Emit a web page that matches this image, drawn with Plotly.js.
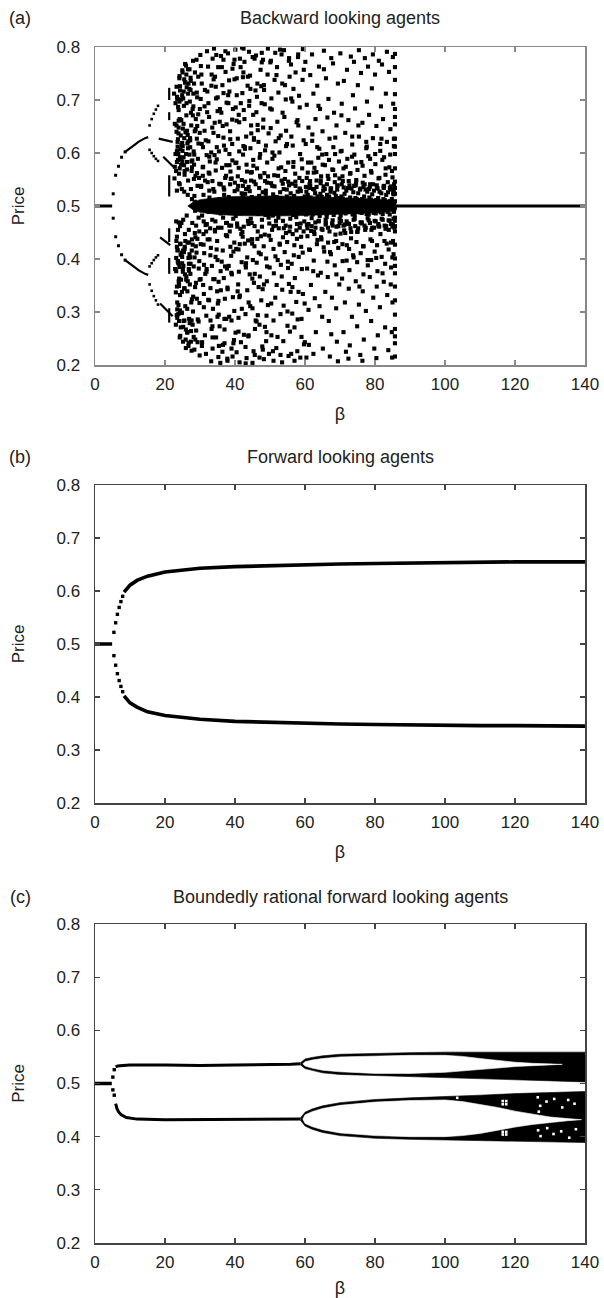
<!DOCTYPE html>
<html><head><meta charset="utf-8">
<script src="https://cdn.plot.ly/plotly-3.0.1.min.js"></script>
<style>html,body{margin:0;padding:0;background:#fff}#chart{width:604px;height:1298px}</style>
</head><body><div id="chart"></div>
<script>
// ---------- axis ticks ----------
const betaTicks = [0, 20, 40, 60, 80, 100, 120, 140];
const priceTicks = [0.2, 0.3, 0.4, 0.5, 0.6, 0.7, 0.8];

// ---------- panel (a): backward looking agents ----------
const aFlatBeta = [0, 4.9];
const aFlatPrice = [0.5, 0.5];
const aFlat2Beta = [85.7, 140];
const aFlat2Price = [0.5, 0.5];
const aP2DotBeta = [5.2, 5.9, 6.7, 7.6, 8.6];
const aP2DotUp = [0.523, 0.558, 0.575, 0.592, 0.602];
const aP2DotLow = [0.477, 0.442, 0.425, 0.408, 0.398];
const aP2LineBeta = [8.6, 9.5, 10.5, 11.4, 12.4, 13.4, 14.3, 15.2];
const aP2LineUp = [0.602, 0.606, 0.611, 0.616, 0.621, 0.625, 0.628, 0.630];
const aP2LineLow = [0.398, 0.394, 0.389, 0.384, 0.379, 0.375, 0.372, 0.370];
const aP4Beta = [15.6, 16.2, 16.8, 17.4, 18.0];
const aP4UU = [0.652, 0.664, 0.674, 0.682, 0.689];
const aP4UL = [0.606, 0.600, 0.594, 0.589, 0.585];
const aP4LU = [0.386, 0.392, 0.398, 0.403, 0.407];
const aP4LL = [0.352, 0.340, 0.330, 0.322, 0.314];
// short dashes: start/end beta and price
const aDashB0 = [18.2, 19.5, 18.6, 18.6, 21.2, 21.2, 21.2, 21.2, 21.2, 21.2];
const aDashB1 = [22.2, 22.4, 21.5, 22.2, 21.2, 21.2, 21.2, 21.2, 21.2, 21.2];
const aDashP0 = [0.627, 0.593, 0.441, 0.316, 0.723, 0.677, 0.558, 0.458, 0.402, 0.307];
const aDashP1 = [0.621, 0.574, 0.426, 0.292, 0.700, 0.662, 0.518, 0.432, 0.372, 0.280];
// dense core of the chaotic region
const aCoreBeta = [26.5, 28, 30, 35, 40, 50, 60, 70, 80, 86];
const aCoreUp = [0.500, 0.507, 0.512, 0.516, 0.518, 0.519, 0.518, 0.516, 0.513, 0.510];
const aCoreLow = [0.500, 0.493, 0.488, 0.484, 0.482, 0.481, 0.482, 0.484, 0.487, 0.490];
// chaotic cloud, beta 22.5-30
const cloudBetaA = [
22.6,22.8,23.0,22.7,23.2,23.4,22.9,23.1,23.5,23.3,
23.0,23.6,22.8,23.4,23.7,23.2,23.9,23.5,23.1,23.8,
23.3,23.9,23.6,24.0,23.4,23.8,23.5,24.0,23.7,23.2,
23.5,23.7,24.0,23.9,23.6,24.0,23.8,23.4,23.9,23.7,
24.1,24.3,24.2,24.5,24.4,24.6,24.2,24.8,24.7,24.3,
24.4,24.9,24.1,24.6,24.3,24.8,24.5,24.2,24.7,24.9,
25.0,25.2,25.4,25.1,25.3,25.6,25.5,25.2,25.7,25.4,
25.1,25.6,25.8,25.3,25.9,25.5,25.7,25.0,25.8,25.6,
26.0,26.2,26.1,26.4,26.3,26.6,26.5,26.2,26.8,26.7,
26.1,26.4,26.9,26.3,26.7,26.5,26.0,26.8,26.6,26.9,
27.0,27.3,27.1,27.5,27.2,27.6,27.4,27.8,27.7,27.3,
27.1,27.5,27.9,27.4,27.6,27.2,27.8,27.0,27.9,27.7,
28.0,28.3,28.1,28.5,28.2,28.7,28.4,28.6,28.9,28.8,
28.2,28.6,28.0,28.9,28.4,28.8,28.3,28.7,28.1,28.5,
29.0,29.2,29.5,29.1,29.4,29.3,29.7,29.6,29.8,29.9,
29.1,29.6,29.3,29.9,29.2,29.8,29.5,29.0,29.7,29.4,
23.4,24.2,24.9,25.6,26.3,27.0,27.7,23.9,24.6,25.3,
23.6,24.4,25.1,25.8,26.5,27.2,27.9,24.0,24.8,25.5,
24.3,24.9,25.5,26.1,26.7,27.3,25.2,26.4,27.6,28.2];
const cloudPriceA = [
0.712,0.655,0.598,0.552,0.471,0.423,0.381,0.337,0.289,0.640,
0.694,0.621,0.574,0.529,0.455,0.402,0.358,0.305,0.276,0.598,
0.725,0.681,0.612,0.561,0.442,0.392,0.318,0.283,0.626,0.377,
0.702,0.587,0.543,0.469,0.416,0.349,0.296,0.603,0.661,0.395,
0.741,0.718,0.664,0.633,0.607,0.578,0.541,0.532,0.468,0.462,
0.428,0.404,0.385,0.361,0.332,0.298,0.271,0.252,0.615,0.392,
0.752,0.703,0.689,0.646,0.592,0.559,0.527,0.474,0.447,0.413,
0.376,0.344,0.311,0.283,0.248,0.628,0.371,0.604,0.733,0.419,
0.765,0.724,0.671,0.618,0.583,0.548,0.521,0.482,0.455,0.402,
0.367,0.339,0.287,0.262,0.236,0.634,0.598,0.381,0.712,0.431,
0.758,0.742,0.697,0.652,0.611,0.566,0.532,0.468,0.437,0.391,
0.352,0.318,0.276,0.244,0.227,0.624,0.586,0.409,0.683,0.513,
0.774,0.731,0.688,0.641,0.603,0.557,0.519,0.491,0.463,0.424,
0.386,0.347,0.301,0.265,0.229,0.664,0.578,0.441,0.712,0.508,
0.776,0.705,0.673,0.627,0.589,0.538,0.505,0.478,0.396,0.361,
0.325,0.282,0.243,0.218,0.651,0.452,0.744,0.412,0.553,0.494,
0.583,0.571,0.619,0.566,0.642,0.597,0.573,0.648,0.588,0.655,
0.417,0.429,0.381,0.434,0.358,0.403,0.427,0.352,0.412,0.345,
0.726,0.709,0.739,0.748,0.731,0.719,0.272,0.261,0.284,0.253];
// chaotic cloud, beta 30-50
const cloudBetaB = [
30.1,30.4,30.2,30.7,30.5,30.9,30.3,30.8,30.6,31.0,
31.2,31.5,31.1,31.8,31.4,31.7,31.3,31.9,31.6,31.0,
30.5,31.3,30.8,31.6,30.2,31.9,31.1,30.6,31.4,30.9,
32.0,32.3,32.1,32.6,32.4,32.8,32.2,32.7,32.5,32.9,
33.1,33.4,33.0,33.7,33.3,33.6,33.2,33.9,33.5,33.8,
32.4,33.2,32.7,33.5,32.2,33.8,33.0,32.9,33.6,32.6,
34.0,34.3,34.6,34.2,34.8,34.5,34.1,34.7,34.4,34.9,
35.0,35.3,35.1,35.6,35.4,35.8,35.2,35.7,35.5,35.9,
34.5,35.2,34.8,35.6,34.3,35.9,35.0,34.6,35.4,34.9,
36.0,36.4,36.1,36.7,36.3,36.9,36.2,36.6,36.5,36.8,
37.1,37.5,37.0,37.8,37.3,37.6,37.2,37.9,37.4,37.7,
36.5,37.3,36.9,37.7,36.2,37.9,37.0,36.7,37.5,36.4,
38.0,38.3,38.1,38.6,38.4,38.8,38.2,38.7,38.5,38.9,
39.1,39.4,39.0,39.7,39.3,39.6,39.2,39.9,39.5,39.8,
38.4,39.2,38.7,39.5,38.2,39.8,39.0,38.6,39.4,38.9,
40.1,40.5,40.2,40.8,40.4,40.9,40.3,40.7,40.6,41.0,
41.1,41.4,41.0,41.7,41.3,41.6,41.2,41.9,41.5,41.8,
40.5,41.2,40.8,41.6,40.2,41.9,41.0,40.7,41.4,40.9,
42.0,42.4,42.1,42.7,42.3,42.9,42.2,42.6,42.5,42.8,
43.1,43.5,43.0,43.8,43.3,43.6,43.2,43.9,43.4,43.7,
42.5,43.3,42.9,43.7,42.2,43.9,43.0,42.7,43.5,42.4,
44.0,44.3,44.1,44.6,44.4,44.8,44.2,44.7,44.5,44.9,
45.1,45.4,45.0,45.7,45.3,45.6,45.2,45.9,45.5,45.8,
44.4,45.2,44.8,45.6,44.2,45.9,45.0,44.6,45.4,44.9,
46.0,46.4,46.1,46.7,46.3,46.9,46.2,46.6,46.5,46.8,
47.1,47.5,47.0,47.8,47.3,47.6,47.2,47.9,47.4,47.7,
46.5,47.3,46.9,47.7,46.2,47.9,47.0,46.7,47.5,46.4,
48.0,48.3,48.1,48.6,48.4,48.8,48.2,48.7,48.5,48.9,
49.1,49.4,49.0,49.7,49.3,49.6,49.2,49.9,49.5,49.8,
48.5,49.2,48.8,49.6,48.2,49.9,49.0,48.6,49.4,48.9];
const cloudPriceB = [
0.785,0.748,0.702,0.659,0.617,0.574,0.536,0.507,0.482,0.447,
0.411,0.372,0.334,0.293,0.256,0.221,0.688,0.596,0.464,0.521,
0.731,0.642,0.557,0.496,0.428,0.381,0.309,0.243,0.719,0.351,
0.792,0.763,0.716,0.668,0.622,0.584,0.545,0.516,0.489,0.458,
0.421,0.387,0.345,0.306,0.268,0.231,0.207,0.739,0.648,0.532,
0.694,0.601,0.561,0.474,0.437,0.362,0.284,0.503,0.778,0.322,
0.797,0.744,0.703,0.657,0.611,0.567,0.527,0.498,0.471,0.434,
0.398,0.357,0.316,0.273,0.236,0.204,0.762,0.683,0.542,0.486,
0.725,0.632,0.588,0.513,0.452,0.377,0.291,0.252,0.603,0.339,
0.783,0.728,0.676,0.629,0.572,0.531,0.509,0.478,0.416,0.364,
0.325,0.287,0.241,0.212,0.753,0.695,0.553,0.493,0.445,0.382,
0.651,0.606,0.521,0.468,0.395,0.343,0.267,0.776,0.577,0.225,
0.788,0.737,0.694,0.641,0.598,0.551,0.517,0.489,0.452,0.406,
0.371,0.328,0.284,0.247,0.216,0.768,0.663,0.528,0.502,0.431,
0.716,0.617,0.565,0.476,0.387,0.302,0.231,0.541,0.683,0.463,
0.795,0.741,0.686,0.627,0.582,0.538,0.512,0.493,0.467,0.418,
0.376,0.331,0.289,0.243,0.205,0.762,0.658,0.524,0.486,0.447,
0.709,0.603,0.556,0.507,0.481,0.394,0.263,0.531,0.778,0.352,
0.799,0.752,0.713,0.664,0.597,0.546,0.519,0.495,0.461,0.429,
0.384,0.341,0.296,0.254,0.213,0.727,0.631,0.536,0.503,0.472,
0.681,0.578,0.523,0.488,0.442,0.318,0.234,0.772,0.403,0.613,
0.791,0.746,0.698,0.652,0.609,0.564,0.528,0.501,0.476,0.437,
0.398,0.355,0.307,0.268,0.226,0.778,0.672,0.541,0.513,0.489,
0.721,0.587,0.517,0.462,0.371,0.284,0.204,0.548,0.625,0.429,
0.784,0.731,0.677,0.621,0.571,0.534,0.508,0.485,0.452,0.412,
0.367,0.322,0.276,0.235,0.757,0.694,0.598,0.526,0.497,0.461,
0.643,0.554,0.519,0.474,0.393,0.343,0.214,0.502,0.726,0.438,
0.776,0.719,0.663,0.605,0.562,0.529,0.506,0.483,0.446,0.401,
0.358,0.313,0.262,0.221,0.748,0.637,0.544,0.514,0.491,0.467,
0.692,0.582,0.523,0.478,0.424,0.384,0.293,0.547,0.797,0.245];
// chaotic cloud, beta 50-70
const cloudBetaC = [
50.1,50.4,50.2,50.7,50.3,50.9,50.5,50.8,50.6,51.0,
51.1,51.5,51.0,51.8,51.3,51.6,51.2,51.9,51.4,51.7,
50.5,51.3,50.8,51.7,50.2,51.9,51.0,50.7,51.5,50.4,
52.0,52.4,52.1,52.7,52.3,52.9,52.2,52.6,52.5,52.8,
53.1,53.5,53.0,53.8,53.3,53.6,53.2,53.9,53.4,53.7,
52.5,53.3,52.9,53.7,52.2,53.9,53.0,52.7,53.5,52.4,
54.0,54.3,54.1,54.6,54.4,54.8,54.2,54.7,54.5,54.9,
55.1,55.4,55.0,55.7,55.3,55.6,55.2,55.9,55.5,55.8,
54.5,55.2,54.8,55.6,54.2,55.9,55.0,54.6,55.4,54.9,
56.0,56.4,56.1,56.7,56.3,56.9,56.2,56.6,56.5,56.8,
57.1,57.5,57.0,57.8,57.3,57.6,57.2,57.9,57.4,57.7,
56.5,57.3,56.9,57.7,56.2,57.9,57.0,56.7,57.5,56.4,
58.0,58.3,58.1,58.6,58.4,58.8,58.2,58.7,58.5,58.9,
59.1,59.4,59.0,59.7,59.3,59.6,59.2,59.9,59.5,59.8,
58.5,59.2,58.8,59.6,58.2,59.9,59.0,58.6,59.4,58.9,
60.1,60.5,60.2,60.8,60.4,60.9,60.3,60.7,60.6,61.0,
61.1,61.5,61.0,61.8,61.3,61.6,61.2,61.9,61.4,61.7,
60.5,61.3,60.8,61.7,60.2,61.9,61.0,60.7,61.5,60.4,
62.0,62.4,62.1,62.7,62.3,62.9,62.2,62.6,62.5,62.8,
63.1,63.5,63.0,63.8,63.3,63.6,63.2,63.9,63.4,63.7,
62.5,63.3,62.9,63.7,62.2,63.9,63.0,62.7,63.5,62.4,
64.0,64.3,64.1,64.6,64.4,64.8,64.2,64.7,64.5,64.9,
65.1,65.4,65.0,65.7,65.3,65.6,65.2,65.9,65.5,65.8,
64.5,65.2,64.8,65.6,64.2,65.9,65.0,64.6,65.4,64.9,
66.0,66.4,66.1,66.7,66.3,66.9,66.2,66.6,66.5,66.8,
67.1,67.5,67.0,67.8,67.3,67.6,67.2,67.9,67.4,67.7,
66.5,67.3,66.9,67.7,66.2,67.9,67.0,66.7,67.5,66.4,
68.0,68.3,68.1,68.6,68.4,68.8,68.2,68.7,68.5,68.9,
69.1,69.4,69.0,69.7,69.3,69.6,69.2,69.9,69.5,69.8,
68.5,69.2,68.8,69.6,68.2,69.9,69.0,68.6,69.4,68.9];
const cloudPriceC = [
0.771,0.703,0.647,0.589,0.543,0.522,0.504,0.482,0.455,0.419,
0.373,0.327,0.284,0.232,0.738,0.622,0.558,0.517,0.492,0.463,
0.682,0.537,0.509,0.472,0.436,0.351,0.208,0.601,0.789,0.256,
0.762,0.714,0.659,0.601,0.557,0.526,0.507,0.486,0.458,0.427,
0.389,0.342,0.296,0.245,0.786,0.676,0.573,0.532,0.497,0.472,
0.628,0.548,0.515,0.441,0.398,0.312,0.219,0.493,0.731,0.478,
0.794,0.728,0.668,0.613,0.566,0.531,0.511,0.489,0.463,0.432,
0.395,0.353,0.301,0.263,0.217,0.744,0.582,0.524,0.503,0.476,
0.701,0.546,0.518,0.452,0.413,0.338,0.274,0.642,0.774,0.487,
0.767,0.697,0.631,0.583,0.542,0.519,0.502,0.483,0.447,0.407,
0.364,0.319,0.271,0.226,0.752,0.658,0.561,0.527,0.494,0.466,
0.614,0.538,0.512,0.438,0.391,0.286,0.208,0.721,0.479,0.347,
0.781,0.708,0.652,0.598,0.553,0.528,0.508,0.487,0.459,0.423,
0.381,0.334,0.287,0.239,0.738,0.624,0.547,0.518,0.496,0.471,
0.686,0.571,0.514,0.452,0.404,0.316,0.253,0.531,0.796,0.442,
0.772,0.691,0.617,0.563,0.527,0.506,0.484,0.443,0.382,0.304,
0.238,0.747,0.648,0.582,0.541,0.516,0.493,0.462,0.417,0.351,
0.553,0.534,0.521,0.512,0.488,0.477,0.466,0.458,0.539,0.214,
0.786,0.712,0.635,0.572,0.532,0.509,0.489,0.451,0.397,0.326,
0.262,0.727,0.664,0.591,0.548,0.518,0.497,0.472,0.428,0.369,
0.563,0.536,0.524,0.513,0.484,0.471,0.459,0.447,0.611,0.221,
0.763,0.683,0.608,0.556,0.523,0.504,0.481,0.437,0.374,0.291,
0.231,0.758,0.641,0.577,0.537,0.514,0.492,0.465,0.414,0.338,
0.548,0.529,0.517,0.508,0.486,0.474,0.455,0.441,0.793,0.597,
0.741,0.667,0.598,0.551,0.521,0.502,0.479,0.431,0.366,0.283,
0.216,0.779,0.627,0.569,0.533,0.512,0.491,0.463,0.409,0.327,
0.557,0.527,0.518,0.506,0.485,0.473,0.452,0.702,0.258,0.395,
0.769,0.676,0.611,0.558,0.525,0.505,0.483,0.446,0.388,0.307,
0.244,0.731,0.652,0.584,0.539,0.515,0.494,0.468,0.421,0.352,
0.545,0.531,0.519,0.509,0.488,0.476,0.461,0.598,0.207,0.434];
// chaotic cloud, beta 70-86
const cloudBetaD = [
70.1,70.5,70.2,70.8,70.4,70.9,70.3,70.7,70.6,71.0,
71.1,71.5,71.0,71.8,71.3,71.6,71.2,71.9,71.4,71.7,
70.5,71.3,70.8,71.7,70.2,71.9,71.0,70.7,71.5,70.4,
72.0,72.4,72.1,72.7,72.3,72.9,72.2,72.6,72.5,72.8,
73.1,73.5,73.0,73.8,73.3,73.6,73.2,73.9,73.4,73.7,
72.5,73.3,72.9,73.7,72.2,73.9,73.0,72.7,73.5,72.4,
74.0,74.3,74.1,74.6,74.4,74.8,74.2,74.7,74.5,74.9,
75.1,75.4,75.0,75.7,75.3,75.6,75.2,75.9,75.4,75.8,
74.5,75.2,74.8,75.6,74.2,75.9,75.0,74.6,75.4,74.9,
76.0,76.4,76.1,76.7,76.3,76.9,76.2,76.6,76.5,76.8,
77.1,77.5,77.0,77.8,77.3,77.6,77.2,77.9,77.4,77.7,
76.5,77.3,76.9,77.7,76.2,77.9,77.0,76.7,77.5,76.4,
78.0,78.3,78.1,78.6,78.4,78.8,78.2,78.7,78.5,78.9,
79.1,79.4,79.0,79.7,79.3,79.6,79.2,79.9,79.5,79.8,
78.5,79.2,78.8,79.6,78.2,79.9,79.0,78.6,79.4,78.9,
80.0,80.4,80.1,80.7,80.3,80.9,80.2,80.6,80.5,80.8,
81.1,81.5,81.0,81.8,81.3,81.6,81.2,81.9,81.4,81.7,
80.5,81.3,80.9,81.7,80.2,81.9,81.0,80.7,81.5,80.4,
82.0,82.3,82.1,82.6,82.4,82.8,82.2,82.7,82.5,82.9,
83.1,83.4,83.0,83.7,83.3,83.6,83.2,83.9,83.5,83.8,
82.5,83.2,82.8,83.6,82.2,83.9,83.0,82.6,83.4,82.9,
84.0,84.4,84.1,84.7,84.3,84.9,84.2,84.6,84.5,84.8,
85.1,85.4,85.0,85.3,85.2,85.4,85.1,85.3,85.0,85.2,
84.5,85.2,84.8,85.4,84.2,85.3,85.0,84.6,85.4,84.9,
85.7,85.7,85.7,85.7,85.7,85.7,85.7,85.7,85.7,85.7,
85.7,85.7,85.7,85.7,85.7,85.7,85.7,85.7,85.7,85.7,
85.7,85.7,85.7,85.7,85.7,85.7,85.7,85.7,85.7,85.7];
const cloudPriceD = [
0.788,0.693,0.603,0.547,0.518,0.497,0.472,0.428,0.363,0.262,
0.736,0.638,0.571,0.529,0.509,0.486,0.454,0.397,0.318,0.225,
0.541,0.523,0.514,0.503,0.482,0.471,0.463,0.556,0.449,0.671,
0.757,0.662,0.589,0.539,0.512,0.493,0.467,0.419,0.344,0.237,
0.782,0.616,0.562,0.526,0.507,0.484,0.451,0.403,0.291,0.709,
0.547,0.533,0.516,0.502,0.489,0.474,0.458,0.379,0.631,0.212,
0.772,0.684,0.597,0.544,0.515,0.496,0.476,0.432,0.358,0.273,
0.728,0.631,0.568,0.531,0.511,0.488,0.458,0.411,0.314,0.219,
0.539,0.524,0.513,0.504,0.483,0.469,0.452,0.582,0.794,0.394,
0.751,0.657,0.583,0.536,0.513,0.494,0.469,0.424,0.339,0.248,
0.779,0.609,0.557,0.527,0.506,0.485,0.455,0.398,0.302,0.697,
0.544,0.531,0.518,0.502,0.487,0.477,0.463,0.371,0.621,0.208,
0.763,0.672,0.594,0.541,0.516,0.497,0.473,0.437,0.366,0.283,
0.722,0.628,0.563,0.529,0.508,0.487,0.459,0.414,0.327,0.231,
0.536,0.522,0.512,0.503,0.484,0.472,0.455,0.589,0.786,0.398,
0.748,0.651,0.579,0.533,0.511,0.494,0.471,0.426,0.348,0.256,
0.774,0.604,0.552,0.524,0.506,0.488,0.461,0.404,0.309,0.688,
0.539,0.527,0.515,0.502,0.486,0.476,0.463,0.377,0.617,0.213,
0.767,0.664,0.587,0.538,0.513,0.496,0.474,0.434,0.357,0.271,
0.712,0.621,0.559,0.526,0.508,0.489,0.462,0.418,0.332,0.228,
0.534,0.521,0.511,0.503,0.485,0.473,0.457,0.592,0.791,0.391,
0.753,0.645,0.573,0.531,0.509,0.495,0.472,0.431,0.352,0.262,
0.781,0.613,0.554,0.522,0.506,0.489,0.464,0.409,0.318,0.693,
0.537,0.524,0.513,0.502,0.484,0.476,0.461,0.384,0.627,0.214,
0.787,0.762,0.738,0.711,0.683,0.654,0.627,0.598,0.571,0.546,
0.523,0.509,0.497,0.478,0.452,0.427,0.401,0.373,0.348,0.322,
0.295,0.268,0.241,0.216,0.668,0.612,0.534,0.462,0.387,0.254];
// chaotic cloud, additional points over the whole region
const cloudBetaE = [
23.15,23.55,23.85,24.25,24.65,25.05,25.45,25.85,26.25,26.65,
23.25,23.65,24.05,24.45,24.85,25.25,25.65,26.05,26.45,26.85,
27.15,27.55,27.95,28.35,28.75,29.15,29.55,29.95,27.35,28.55,
27.25,27.65,28.05,28.45,28.85,29.25,29.65,29.85,27.45,28.65,
23.75,24.15,24.55,24.95,25.35,25.75,26.15,26.55,26.95,23.45,
23.85,24.35,24.75,25.15,25.55,25.95,26.35,26.75,27.05,23.35,
30.25,30.85,31.45,32.05,32.65,33.25,33.85,34.45,35.05,35.65,
30.55,31.15,31.75,32.35,32.95,33.55,34.15,34.75,35.35,35.95,
36.25,36.85,37.45,38.05,38.65,39.25,39.85,40.45,41.05,41.65,
36.55,37.15,37.75,38.35,38.95,39.55,40.15,40.75,41.35,41.95,
42.25,42.85,43.45,44.05,44.65,45.25,45.85,46.45,47.05,47.65,
42.55,43.15,43.75,44.35,44.95,45.55,46.15,46.75,47.35,47.95,
30.35,31.95,33.55,35.15,36.75,38.35,39.95,41.55,43.15,44.75,
31.05,32.65,34.25,35.85,37.45,39.05,40.65,42.25,43.85,45.45,
48.25,48.85,49.45,50.05,50.65,51.25,51.85,52.45,53.05,53.65,
48.55,49.15,49.75,50.35,50.95,51.55,52.15,52.75,53.35,53.95,
54.25,54.85,55.45,56.05,56.65,57.25,57.85,58.45,59.05,59.65,
54.55,55.15,55.75,56.35,56.95,57.55,58.15,58.75,59.35,59.95,
60.25,60.85,61.45,62.05,62.65,63.25,63.85,64.45,65.05,65.65,
60.55,61.15,61.75,62.35,62.95,63.55,64.15,64.75,65.35,65.95,
66.25,66.85,67.45,68.05,68.65,69.25,69.85,70.45,71.05,71.65,
66.55,67.15,67.75,68.35,68.95,69.55,70.15,70.75,71.35,71.95,
72.25,72.85,73.45,74.05,74.65,75.25,75.85,76.45,77.05,77.65,
72.55,73.15,73.75,74.35,74.95,75.55,76.15,76.75,77.35,77.95,
78.25,78.85,79.45,80.05,80.65,81.25,81.85,82.45,83.05,83.65,
78.55,79.15,79.75,80.35,80.95,81.55,82.15,82.75,83.35,83.95,
84.25,84.85,85.45,84.55,85.15,85.55,84.35,84.95,85.35,85.65,
34.65,37.25,39.85,42.45,45.05,47.65,50.25,52.85,55.45,58.05,
35.25,37.85,40.45,43.05,45.65,48.25,50.85,53.45,56.05,58.65];
const cloudPriceE = [
0.566,0.604,0.637,0.592,0.662,0.613,0.577,0.639,0.569,0.622,
0.434,0.396,0.363,0.408,0.338,0.387,0.423,0.361,0.431,0.378,
0.628,0.584,0.671,0.597,0.645,0.562,0.618,0.683,0.736,0.752,
0.372,0.416,0.329,0.403,0.355,0.438,0.382,0.317,0.264,0.248,
0.687,0.745,0.701,0.756,0.716,0.768,0.694,0.758,0.721,0.706,
0.313,0.255,0.299,0.244,0.284,0.232,0.306,0.242,0.279,0.294,
0.764,0.611,0.548,0.677,0.593,0.727,0.638,0.582,0.705,0.659,
0.236,0.389,0.452,0.323,0.407,0.273,0.362,0.418,0.295,0.341,
0.762,0.614,0.557,0.709,0.626,0.586,0.739,0.661,0.572,0.694,
0.238,0.386,0.443,0.291,0.374,0.414,0.261,0.339,0.428,0.306,
0.743,0.608,0.565,0.689,0.637,0.576,0.718,0.653,0.591,0.771,
0.257,0.392,0.435,0.311,0.363,0.424,0.282,0.347,0.409,0.229,
0.538,0.466,0.547,0.459,0.535,0.463,0.544,0.457,0.532,0.468,
0.471,0.529,0.455,0.541,0.468,0.552,0.461,0.538,0.466,0.546,
0.728,0.614,0.556,0.684,0.538,0.595,0.747,0.571,0.633,0.542,
0.272,0.386,0.444,0.316,0.462,0.405,0.253,0.429,0.367,0.458,
0.551,0.617,0.539,0.703,0.574,0.546,0.662,0.533,0.588,0.757,
0.449,0.383,0.461,0.297,0.426,0.454,0.338,0.467,0.412,0.243,
0.536,0.582,0.547,0.623,0.531,0.564,0.689,0.543,0.578,0.532,
0.464,0.418,0.453,0.377,0.469,0.436,0.311,0.457,0.422,0.468,
0.541,0.587,0.533,0.568,0.629,0.538,0.552,0.604,0.535,0.574,
0.459,0.413,0.467,0.432,0.371,0.462,0.448,0.396,0.465,0.426,
0.534,0.561,0.593,0.538,0.549,0.652,0.533,0.576,0.541,0.612,
0.466,0.439,0.407,0.462,0.451,0.348,0.467,0.424,0.459,0.388,
0.532,0.566,0.541,0.598,0.534,0.553,0.627,0.537,0.571,0.545,
0.468,0.434,0.459,0.402,0.466,0.447,0.373,0.463,0.429,0.455,
0.534,0.566,0.541,0.466,0.434,0.459,0.597,0.403,0.528,0.472,
0.785,0.792,0.776,0.797,0.781,0.789,0.774,0.795,0.779,0.786,
0.215,0.208,0.224,0.203,0.219,0.211,0.226,0.205,0.221,0.214];
// chaotic cloud, extra points in the densest part (beta 23-48)
const cloudBetaF = [
23.28,24.12,24.96,25.74,26.58,27.42,28.26,29.08,29.92,30.76,
23.42,24.26,25.18,25.96,26.84,27.68,28.52,29.36,30.18,31.02,
31.64,32.48,33.32,34.16,35.02,35.86,36.72,37.58,38.42,39.28,
31.86,32.72,33.58,34.44,35.28,36.14,36.98,37.84,38.68,39.54,
40.12,41.06,41.94,42.82,43.68,44.56,45.42,46.28,47.16,48.04,
40.36,41.24,42.12,43.02,43.88,44.76,45.64,46.52,47.38,48.26];
const cloudPriceF = [
0.652,0.697,0.584,0.733,0.609,0.676,0.551,0.714,0.638,0.573,
0.348,0.303,0.416,0.267,0.391,0.324,0.449,0.286,0.362,0.427,
0.624,0.563,0.748,0.596,0.679,0.541,0.713,0.654,0.577,0.759,
0.376,0.437,0.252,0.404,0.321,0.459,0.287,0.346,0.423,0.241,
0.581,0.672,0.549,0.611,0.744,0.563,0.628,0.706,0.557,0.648,
0.419,0.328,0.451,0.389,0.256,0.437,0.372,0.294,0.443,0.352];

// ---------- panel (b): forward looking agents ----------
const bFlatBeta = [0, 4.9];
const bFlatPrice = [0.5, 0.5];
const bDotBeta = [5.4, 5.9, 6.4, 6.9, 7.4, 7.9];
const bDotUp = [0.522, 0.540, 0.556, 0.569, 0.580, 0.590];
const bDotLow = [0.478, 0.460, 0.444, 0.431, 0.420, 0.410];
const bBeta = [8.3, 9, 10, 12, 15, 20, 25, 30, 40, 50, 60, 70, 80, 90, 100, 110, 120, 130, 140];
const bUp = [0.598, 0.604, 0.611, 0.620, 0.628, 0.636, 0.640, 0.643, 0.646, 0.648, 0.650, 0.651, 0.652, 0.653, 0.653, 0.654, 0.655, 0.655, 0.655];
const bLow = [0.402, 0.396, 0.389, 0.381, 0.372, 0.365, 0.361, 0.358, 0.354, 0.352, 0.350, 0.349, 0.348, 0.347, 0.347, 0.346, 0.346, 0.345, 0.345];

// ---------- panel (c): boundedly rational forward looking agents ----------
const cFlatBeta = [0, 4.8];
const cFlatPrice = [0.5, 0.5];
const cDotBeta = [5.1, 5.5];
const cDotUp = [0.512, 0.526];
const cDotLow = [0.488, 0.478];
const cUpBeta = [5.9, 6.5, 8, 10, 20, 30, 40, 50, 56, 58.7];
const cUpPrice = [0.531, 0.533, 0.534, 0.535, 0.535, 0.534, 0.535, 0.535, 0.536, 0.537];
const cLowBeta = [5.9, 6.3, 6.8, 7.5, 9, 12, 20, 30, 40, 50, 57, 58.7];
const cLowPrice = [0.462, 0.452, 0.446, 0.441, 0.436, 0.433, 0.432, 0.432, 0.432, 0.432, 0.433, 0.433];
// outer envelopes of the period-doubled branches
const cOuterBeta = [58.7, 60, 62, 65, 70, 80, 90, 100, 110, 120, 130, 140];
const cUpOuterTop = [0.539, 0.546, 0.549, 0.552, 0.555, 0.557, 0.558, 0.559, 0.559, 0.559, 0.559, 0.559];
const cUpOuterBottom = [0.535, 0.528, 0.524, 0.520, 0.517, 0.514, 0.513, 0.511, 0.509, 0.507, 0.505, 0.503];
const cLowOuterTop = [0.435, 0.446, 0.452, 0.458, 0.464, 0.470, 0.473, 0.475, 0.478, 0.481, 0.483, 0.485];
const cLowOuterBottom = [0.431, 0.420, 0.414, 0.408, 0.402, 0.397, 0.395, 0.394, 0.393, 0.391, 0.390, 0.389];
// empty interiors between the branches
const cUpGapBeta = [59.4, 60, 62, 65, 70, 80, 90, 100, 105, 110, 115, 120, 125, 130, 133.5];
const cUpGapTop = [0.537, 0.541, 0.544, 0.547, 0.550, 0.552, 0.553, 0.553, 0.551, 0.547, 0.543, 0.540, 0.538, 0.537, 0.536];
const cUpGapBottom = [0.537, 0.533, 0.529, 0.525, 0.522, 0.519, 0.519, 0.521, 0.523, 0.526, 0.529, 0.532, 0.534, 0.535, 0.536];
const cLowGapBeta = [59.4, 60, 62, 65, 70, 80, 90, 100, 105, 110, 115, 120, 125, 130, 135, 139];
const cLowGapTop = [0.433, 0.441, 0.447, 0.453, 0.459, 0.465, 0.468, 0.469, 0.466, 0.461, 0.455, 0.448, 0.442, 0.437, 0.434, 0.432];
const cLowGapBottom = [0.433, 0.425, 0.419, 0.413, 0.407, 0.402, 0.400, 0.400, 0.402, 0.406, 0.412, 0.418, 0.423, 0.427, 0.430, 0.432];
// periodic windows (white specks) inside the chaotic bands
const cWinBeta = [103.5, 116.5, 117.5, 116.5, 117.5, 116.5, 117.5, 116.5, 117.5, 126.5, 127.2, 126.8, 129.0, 131.2, 126.6, 127.3, 129.2, 131.0, 133.5, 135.2, 137.0, 133.2, 135.5, 137.4];
const cWinPrice = [0.473, 0.467, 0.467, 0.461, 0.461, 0.409, 0.409, 0.404, 0.404, 0.474, 0.458, 0.447, 0.466, 0.471, 0.412, 0.401, 0.416, 0.405, 0.455, 0.469, 0.462, 0.410, 0.398, 0.414];

// ---------- drawing ----------
const FONT = 'Liberation Sans, Arial, Helvetica, sans-serif';
const INK = '#000';
const TXT = '#222';
function lineT(xa, ya, X, Y, w) {
  return {type: 'scatter', mode: 'lines', x: X, y: Y, xaxis: xa, yaxis: ya,
    line: {color: INK, width: w}, hoverinfo: 'skip'};
}
function dotT(xa, ya, X, Y, s, color) {
  return {type: 'scatter', mode: 'markers', x: X, y: Y, xaxis: xa, yaxis: ya,
    marker: {color: color || INK, size: s, symbol: 'square', line: {width: 0}}, hoverinfo: 'skip'};
}
function polyT(xa, ya, X, top, bottom, color) {
  return {type: 'scatter', mode: 'lines', x: X.concat(X.slice().reverse()),
    y: top.concat(bottom.slice().reverse()), fill: 'toself', fillcolor: color,
    line: {color: color, width: 0.6}, xaxis: xa, yaxis: ya, hoverinfo: 'skip'};
}
function segT(xa, ya, b0, b1, p0, p1, w) {
  const X = [], Y = [];
  for (let i = 0; i < b0.length; i++) { X.push(b0[i], b1[i], null); Y.push(p0[i], p1[i], null); }
  return lineT(xa, ya, X, Y, w);
}

const CLOUD = 4.1;
const traces = [
  // (a)
  lineT('x', 'y', aFlatBeta, aFlatPrice, 3),
  lineT('x', 'y', aFlat2Beta, aFlat2Price, 3),
  dotT('x', 'y', aP2DotBeta, aP2DotUp, 3),
  dotT('x', 'y', aP2DotBeta, aP2DotLow, 3),
  lineT('x', 'y', aP2LineBeta, aP2LineUp, 2.2),
  lineT('x', 'y', aP2LineBeta, aP2LineLow, 2.2),
  dotT('x', 'y', aP4Beta, aP4UU, 2.6),
  dotT('x', 'y', aP4Beta, aP4UL, 2.6),
  dotT('x', 'y', aP4Beta, aP4LU, 2.6),
  dotT('x', 'y', aP4Beta, aP4LL, 2.6),
  segT('x', 'y', aDashB0, aDashB1, aDashP0, aDashP1, 2.2),
  polyT('x', 'y', aCoreBeta, aCoreUp, aCoreLow, INK),
  dotT('x', 'y', cloudBetaA, cloudPriceA, CLOUD),
  dotT('x', 'y', cloudBetaB, cloudPriceB, CLOUD),
  dotT('x', 'y', cloudBetaC, cloudPriceC, CLOUD),
  dotT('x', 'y', cloudBetaD, cloudPriceD, CLOUD),
  dotT('x', 'y', cloudBetaE, cloudPriceE, CLOUD),
  dotT('x', 'y', cloudBetaF, cloudPriceF, CLOUD),
  // (b)
  lineT('x2', 'y2', bFlatBeta, bFlatPrice, 3.5),
  dotT('x2', 'y2', bDotBeta, bDotUp, 3.4),
  dotT('x2', 'y2', bDotBeta, bDotLow, 3.4),
  lineT('x2', 'y2', bBeta, bUp, 3.6),
  lineT('x2', 'y2', bBeta, bLow, 3.6),
  // (c)
  lineT('x3', 'y3', cFlatBeta, cFlatPrice, 3.5),
  dotT('x3', 'y3', cDotBeta, cDotUp, 3.4),
  dotT('x3', 'y3', cDotBeta, cDotLow, 3.4),
  lineT('x3', 'y3', cUpBeta, cUpPrice, 3),
  lineT('x3', 'y3', cLowBeta, cLowPrice, 3),
  polyT('x3', 'y3', cOuterBeta, cUpOuterTop, cUpOuterBottom, INK),
  polyT('x3', 'y3', cOuterBeta, cLowOuterTop, cLowOuterBottom, INK),
  polyT('x3', 'y3', cUpGapBeta, cUpGapTop, cUpGapBottom, '#fff'),
  polyT('x3', 'y3', cLowGapBeta, cLowGapTop, cLowGapBottom, '#fff'),
  dotT('x3', 'y3', cWinBeta, cWinPrice, 2.6, '#fff')
];

// layout in pixels of the reference
const W = 604, H = 1298, L = 95, R = 585, T = 47, B = 1243;
const py = v => (B - v) / (B - T);
const pxX = v => (v - L) / (R - L);

function xAx(anchor, color) {
  return {anchor: anchor, domain: [0, 1], range: [0, 140], tickvals: betaTicks,
    ticktext: betaTicks.map(String), ticks: 'inside', ticklen: 5, tickwidth: 1.2, tickcolor: color,
    mirror: 'ticks', showline: true, linecolor: color, linewidth: 1.5, showgrid: false, zeroline: false,
    tickfont: {family: FONT, size: 17, color: TXT}, ticklabelstandoff: 3,
    title: {text: 'β', font: {family: FONT, size: 18, color: TXT}, standoff: 14}};
}
function yAx(anchor, dom, color) {
  return {anchor: anchor, domain: dom, range: [0.2, 0.8], tickvals: priceTicks,
    ticktext: priceTicks.map(v => v.toFixed(1)), ticks: 'inside', ticklen: 5, tickwidth: 1.2, tickcolor: color,
    mirror: 'ticks', showline: true, linecolor: color, linewidth: 1.5, showgrid: false, zeroline: false,
    tickfont: {family: FONT, size: 17, color: TXT}, ticklabelstandoff: 10,
    title: {text: 'Price', font: {family: FONT, size: 17, color: TXT}, standoff: 27}};
}

const titles = [
  {label: '(a)', title: 'Backward looking agents', y: 18},
  {label: '(b)', title: 'Forward looking agents', y: 457},
  {label: '(c)', title: 'Boundedly rational forward looking agents', y: 897}
];
const annotations = [];
titles.forEach(t => {
  annotations.push({xref: 'paper', yref: 'paper', x: pxX(20), y: py(t.y), text: t.label, showarrow: false,
    xanchor: 'center', yanchor: 'middle', font: {family: FONT, size: 18, color: TXT}});
  annotations.push({xref: 'paper', yref: 'paper', x: 0.5, y: py(t.y), text: t.title, showarrow: false,
    xanchor: 'center', yanchor: 'middle', font: {family: FONT, size: 18, color: TXT}});
});

const layout = {
  width: W, height: H, margin: {l: L, r: W - R, t: T, b: H - B},
  paper_bgcolor: '#fff', plot_bgcolor: '#fff', showlegend: false,
  xaxis: xAx('y', '#888'),
  yaxis: yAx('x', [py(365), 1], '#888'),
  xaxis2: xAx('y2', '#444'),
  yaxis2: yAx('x2', [py(803), py(485)], '#444'),
  xaxis3: xAx('y3', '#444'),
  yaxis3: yAx('x3', [0, py(924)], '#444'),
  annotations: annotations
};

Plotly.newPlot('chart', traces, layout, {displayModeBar: false, staticPlot: true});
</script></body></html>
